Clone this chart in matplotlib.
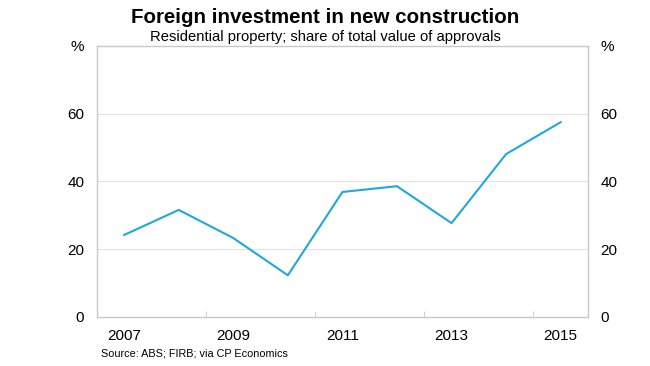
import matplotlib.pyplot as plt

plt.rcParams['font.family'] = ['Liberation Sans', 'DejaVu Sans']

years = ['2007', '2008', '2009', '2010', '2011', '2012', '2013', '2014', '2015']
share = [24.2, 31.6, 23.3, 12.3, 36.9, 38.6, 27.7, 48.1, 57.5]

y_ticks = [0, 20, 40, 60, 80]
y_labels = ['0', '20', '40', '60', '%']

LINE_COLOR = '#1fa8dc'
AXIS_COLOR = '#c8c8c8'

fig = plt.figure(figsize=(6.5, 3.66), dpi=100)
ax = fig.add_axes([0.149, 0.134, 0.7556, 0.7404])

x = list(range(len(years)))
ax.plot(x, share, color=LINE_COLOR, linewidth=1.5)

ax.set_xlim(-0.5, len(years) - 0.5)
ax.set_ylim(0, 80)

ax.set_yticks(y_ticks)
ax.set_yticklabels(y_labels)
ax.tick_params(axis='y', length=0, pad=9, labelsize=11, labelright=True, right=False)
for y in [20, 40, 60]:
    ax.axhline(y, color='#e2e2e2', linewidth=0.8, zorder=0)

# year labels every second category, ticks on category boundaries
ax.set_xticks(x[::2])
ax.set_xticklabels(years[::2])
ax.set_xticks([1.5, 3.5, 5.5, 7.5], minor=True)
ax.tick_params(axis='x', which='major', length=0, pad=9, labelsize=11)
ax.tick_params(axis='x', which='minor', direction='in', length=4, color=AXIS_COLOR)

for s in ax.spines.values():
    s.set_color(AXIS_COLOR)
    s.set_linewidth(1.0)

fig.text(0.5, 0.952, 'Foreign investment in new construction', ha='center', va='center',
         fontsize=14.8, fontweight='bold')
fig.text(0.5, 0.898, 'Residential property; share of total value of approvals', ha='center',
         va='center', fontsize=10.6)
fig.text(0.155, 0.035, 'Source: ABS; FIRB; via CP Economics', ha='left', va='center', fontsize=7.8)

fig.savefig('out.png', dpi=100)
